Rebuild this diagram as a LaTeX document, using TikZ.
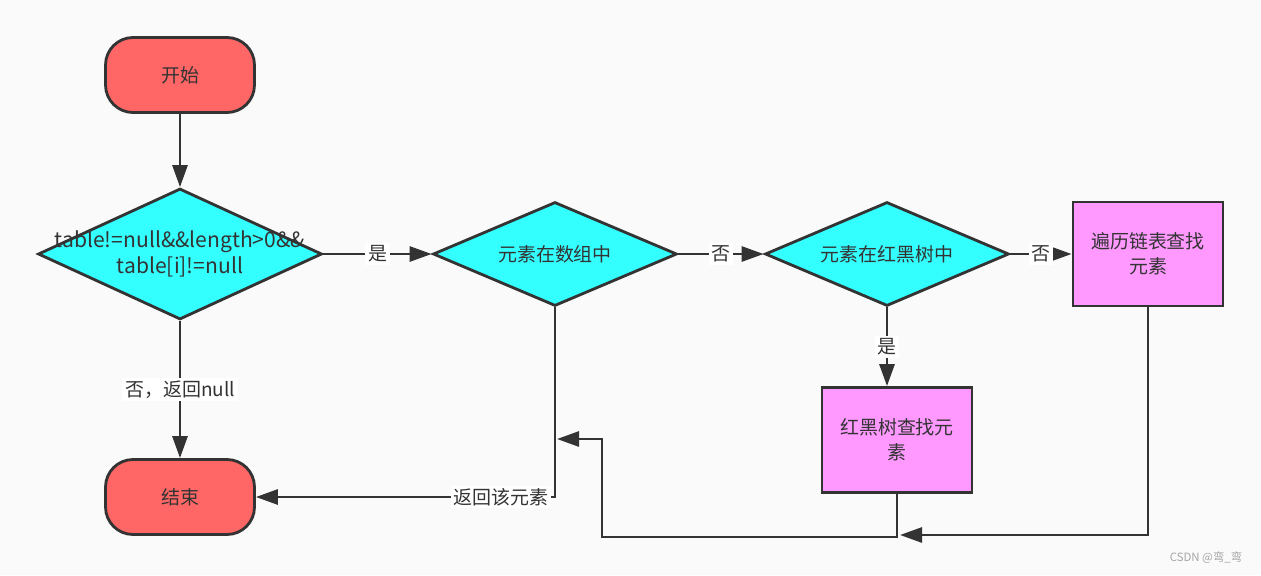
\documentclass[tikz,border=0pt]{standalone}
\usepackage{fontspec}
\setmainfont{Noto Sans CJK SC}
\usetikzlibrary{arrows.meta,shapes.geometric}
\definecolor{bgc}{HTML}{FAFAFA}
\definecolor{linec}{HTML}{333333}
\definecolor{termc}{HTML}{FF6666}
\definecolor{decc}{HTML}{33FFFF}
\definecolor{procc}{HTML}{FF99FF}
\begin{document}
\begin{tikzpicture}[
  x=0.02cm, y=-0.02cm,
  >={Triangle[length=4.4mm,width=3mm]},
  every node/.style={font=\fontsize{10.8}{14}\selectfont, text=linec},
  conn/.style={draw=linec, line width=1.6pt},
  term/.style={conn, rectangle, rounded corners=5.5mm, fill=termc, minimum width=2.98cm, minimum height=1.5cm},
  decision/.style={conn, diamond, fill=decc, inner sep=0pt, aspect=2.35},
  proc/.style={conn, rectangle, fill=procc, minimum width=3.0cm, minimum height=2.08cm, align=center},
  lbl/.style={fill=white, inner sep=1.5pt},
]
  \fill[bgc] (0,0) rectangle (1261,575);
  \useasboundingbox (0,0) rectangle (1261,575);

  \node[term] (start) at (180,75) {开始};
  \node[decision, minimum width=5.68cm, minimum height=2.62cm] (d1) at (180,254) {};
  \node[align=center, font=\fontsize{12}{14.4}\selectfont] (d1txt) at (d1) {table!=null\&\&length>0\&\&\\table[i]!=null};
  \node[decision, minimum width=4.88cm, minimum height=2.08cm] (d2) at (555,254) {元素在数组中};
  \node[decision, minimum width=4.88cm, minimum height=2.08cm] (d3) at (887,254) {元素在红黑树中};
  \node[proc] (b1) at (1148,254) {遍历链表查找\\元素};
  \node[proc, minimum height=2.1cm] (b2) at (897,440) {红黑树查找元\\素};
  \node[term] (end) at (180,497) {结束};
  \coordinate (j1) at (900,535);
  \coordinate (j2) at (557,439);

  \draw[conn,->] (start) -- (d1);
  \draw[conn,->] (d1) -- node[lbl] (y1) {是} (d2);
  \draw[conn,->] (d2) -- node[lbl] (n1) {否} (d3);
  \draw[conn,->] (d3) -- node[lbl] (n2) {否} (b1);
  \draw[conn,->] (d3.south) -- node[lbl] (y2) {是} (d3.south |- b2.north);
  \draw[conn,->] (d1) -- node[lbl] (n3) {否，返回null} (end);
  \draw[conn,->] (d2.south) |- node[lbl,pos=0.59] (ret) {返回该元素} (end.east);
  \draw[conn,->] (b1.south) |- (j1);
  \draw[conn,->] (b2.south) |- (602,537) |- (j2);

  \node[font=\fontsize{6.5}{8}\selectfont, text=gray!70] (wm) at (1206,558) {CSDN @弯\_弯};
\end{tikzpicture}
\end{document}
